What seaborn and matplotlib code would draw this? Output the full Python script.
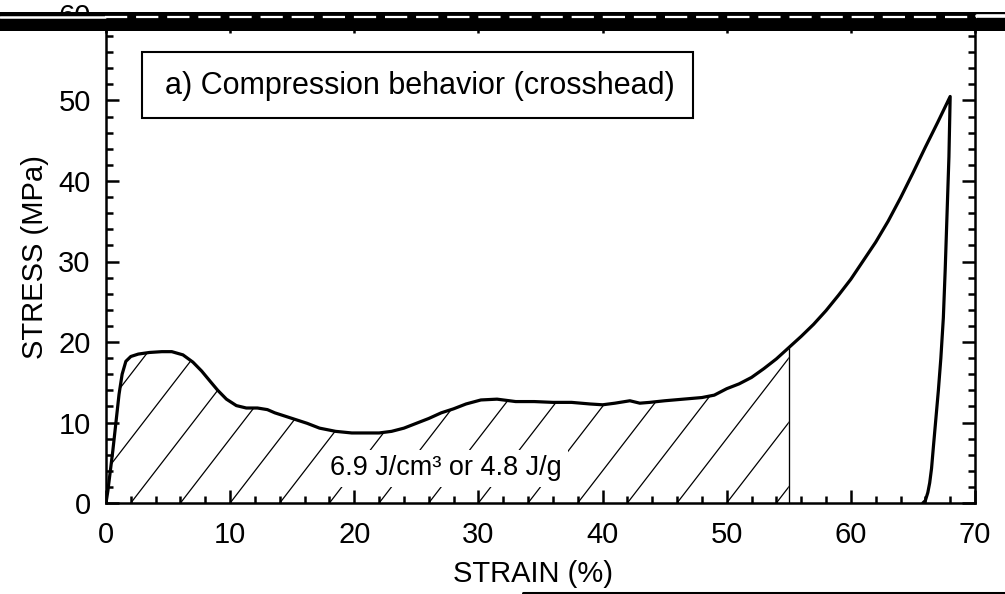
import numpy as np
import pandas as pd
import matplotlib
matplotlib.use("Agg")
import matplotlib.pyplot as plt
from matplotlib.patches import Rectangle
from matplotlib.lines import Line2D
from matplotlib.ticker import MultipleLocator
from matplotlib.transforms import ScaledTranslation
import seaborn as sns

# Loading branch of the crosshead compression test
strain_load = [0.0, 0.15, 0.35, 0.55, 0.8, 1.05, 1.3, 1.6, 2.0, 2.6, 3.5, 4.5,
               5.3, 6.2, 7.0, 7.7, 8.4, 9.0, 9.7, 10.5, 11.3, 12.2, 13.0, 13.6,
               14.4, 15.2, 16.2, 17.2, 18.5, 19.8, 21.0, 22.0, 23.0, 24.0, 25.0,
               26.0, 27.0, 28.0, 29.0, 30.2, 31.5, 33.0, 34.5, 36.0, 37.5, 39.0,
               40.0, 41.0, 42.2, 43.0, 43.8, 45.0, 46.5, 48.0, 49.0, 50.0, 51.0,
               52.0, 53.0, 54.0, 55.0, 56.0, 57.0, 58.0, 59.0, 60.0, 61.0, 62.0,
               63.0, 64.0, 65.0, 66.0, 67.0, 68.0]
stress_load = [0.0, 1.5, 4.0, 6.5, 10.0, 13.5, 16.0, 17.6, 18.2, 18.5, 18.7, 18.8,
               18.8, 18.4, 17.5, 16.4, 15.1, 14.0, 12.9, 12.1, 11.8, 11.8, 11.6, 11.2,
               10.8, 10.4, 9.9, 9.3, 8.9, 8.7, 8.7, 8.7, 8.9, 9.3, 9.9,
               10.5, 11.2, 11.7, 12.3, 12.8, 12.9, 12.6, 12.6, 12.5, 12.5, 12.3,
               12.2, 12.4, 12.7, 12.4, 12.5, 12.7, 12.9, 13.1, 13.4, 14.2, 14.8,
               15.6, 16.7, 17.9, 19.3, 20.7, 22.2, 23.9, 25.8, 27.8, 30.1, 32.4,
               35.0, 37.9, 41.0, 44.2, 47.3, 50.5]

# Unloading branch
strain_unload = [68.0, 67.9, 67.75, 67.6, 67.45, 67.25, 67.05, 66.85, 66.65,
                 66.5, 66.35, 66.2, 66.0, 65.8]
stress_unload = [50.5, 43.0, 36.0, 29.0, 23.0, 18.0, 14.0, 10.5, 7.0,
                 4.3, 2.5, 1.3, 0.3, 0.0]

# Energy-absorption integration limit and its label
strain_limit = 55.0
energy_label = "6.9 J/cm³ or 4.8 J/g"
energy_label_pos = (27.4, 4.3)

panel_title = "a) Compression behavior (crosshead)"
x_label = "STRAIN (%)"
y_label = "STRESS (MPa)"
x_ticks = [0, 10, 20, 30, 40, 50, 60, 70]
y_ticks = [0, 10, 20, 30, 40, 50, 60]

sns.set_style("ticks")
plt.rcParams["font.family"] = ["Liberation Sans", "DejaVu Sans"]
plt.rcParams["text.color"] = "black"
plt.rcParams["axes.labelcolor"] = "black"

W, H = 1005, 594
fig = plt.figure(figsize=(W / 100, H / 100), dpi=100)
fig.patch.set_facecolor("white")
ax = fig.add_axes([106 / W, 1 - 503 / H, 869 / W, 483 / H])

curve = pd.DataFrame({
    "strain": strain_load + strain_unload[1:],
    "stress": stress_load + stress_unload[1:],
})
sns.lineplot(data=curve, x="strain", y="stress", sort=False, estimator=None,
             color="black", linewidth=2.3, ax=ax, zorder=5)

# Hatched region under the loading curve up to the integration limit
sx = np.array(strain_load)
sy = np.array(stress_load)
mask = sx <= strain_limit
region = ax.fill_between(sx[mask], sy[mask], 0, facecolor="none",
                         edgecolor="none", zorder=2)
clip = region.get_paths()[0]
for x0 in np.arange(-10, strain_limit + 1, 4):
    ln, = ax.plot([x0, x0 + 35], [0, 70], color="black", lw=0.9, zorder=3)
    ln.set_clip_path(clip, transform=ax.transData)
y_lim_val = sy[mask][-1]
ax.plot([strain_limit, strain_limit], [0, y_lim_val], color="black",
        lw=0.95, zorder=3)

ax.text(*energy_label_pos, energy_label, ha="center", va="center",
        fontsize=19.5, color="black", zorder=6,
        bbox=dict(facecolor="white", edgecolor="none", pad=4))

# Panel title box
ax.add_patch(Rectangle((0.0414, 0.797), 0.634, 0.137, transform=ax.transAxes,
                       facecolor="white", edgecolor="black", lw=1.5, zorder=6))
ax.text(0.361, 0.864, panel_title, transform=ax.transAxes, ha="center",
        va="center", fontsize=22, color="black", zorder=7)

ax.set_xlim(0, 70)
ax.set_ylim(0, 60)
ax.set_xticks(x_ticks)
ax.set_yticks(y_ticks)
ax.xaxis.set_minor_locator(MultipleLocator(2))
ax.yaxis.set_minor_locator(MultipleLocator(2))
ax.tick_params(which="both", direction="in", top=True, right=True,
               width=1.8, colors="black", labelsize=21)
ax.tick_params(which="major", length=9.5)
ax.tick_params(which="minor", length=5)
ax.tick_params(axis="x", pad=13)
ax.tick_params(axis="y", pad=11)
for sp in ax.spines.values():
    sp.set_linewidth(1.8)
    sp.set_color("black")

# The topmost stress label sits slightly higher, tucked under the top rule
top_tick = ax.yaxis.get_major_ticks()[-1]
top_tick.label1.set_transform(top_tick.label1.get_transform()
                              + ScaledTranslation(0, 4 / 72, fig.dpi_scale_trans))

ax.set_xlabel(x_label, fontsize=21, color="black")
ax.set_ylabel(y_label, fontsize=21, color="black")
ax.xaxis.set_label_coords(0.491, -0.118)
ax.yaxis.set_label_coords(-0.066, 0.51)

# Heavy rules across the top edge and the lower right of the page
fig.add_artist(Rectangle((0, 1 - 31 / H), 1, 19 / H, transform=fig.transFigure,
                         facecolor="black", edgecolor="none", zorder=20))
fig.add_artist(Line2D([0, 105 / W], [1 - 16.5 / H] * 2, transform=fig.transFigure,
                      color="white", lw=1.8, zorder=21))
fig.add_artist(Line2D([105 / W, 977 / W], [1 - 16.5 / H] * 2,
                      transform=fig.transFigure, color="white", lw=1.6,
                      dashes=(10, 4), zorder=21))
fig.add_artist(Line2D([977 / W, 1], [1 - 16 / H] * 2, transform=fig.transFigure,
                      color="white", lw=2.6, zorder=21))
fig.add_artist(Line2D([523 / W, 1], [1 - 592.5 / H] * 2,
                      transform=fig.transFigure, color="black", lw=2.2, zorder=20))

fig.savefig("out.png", dpi=100)
